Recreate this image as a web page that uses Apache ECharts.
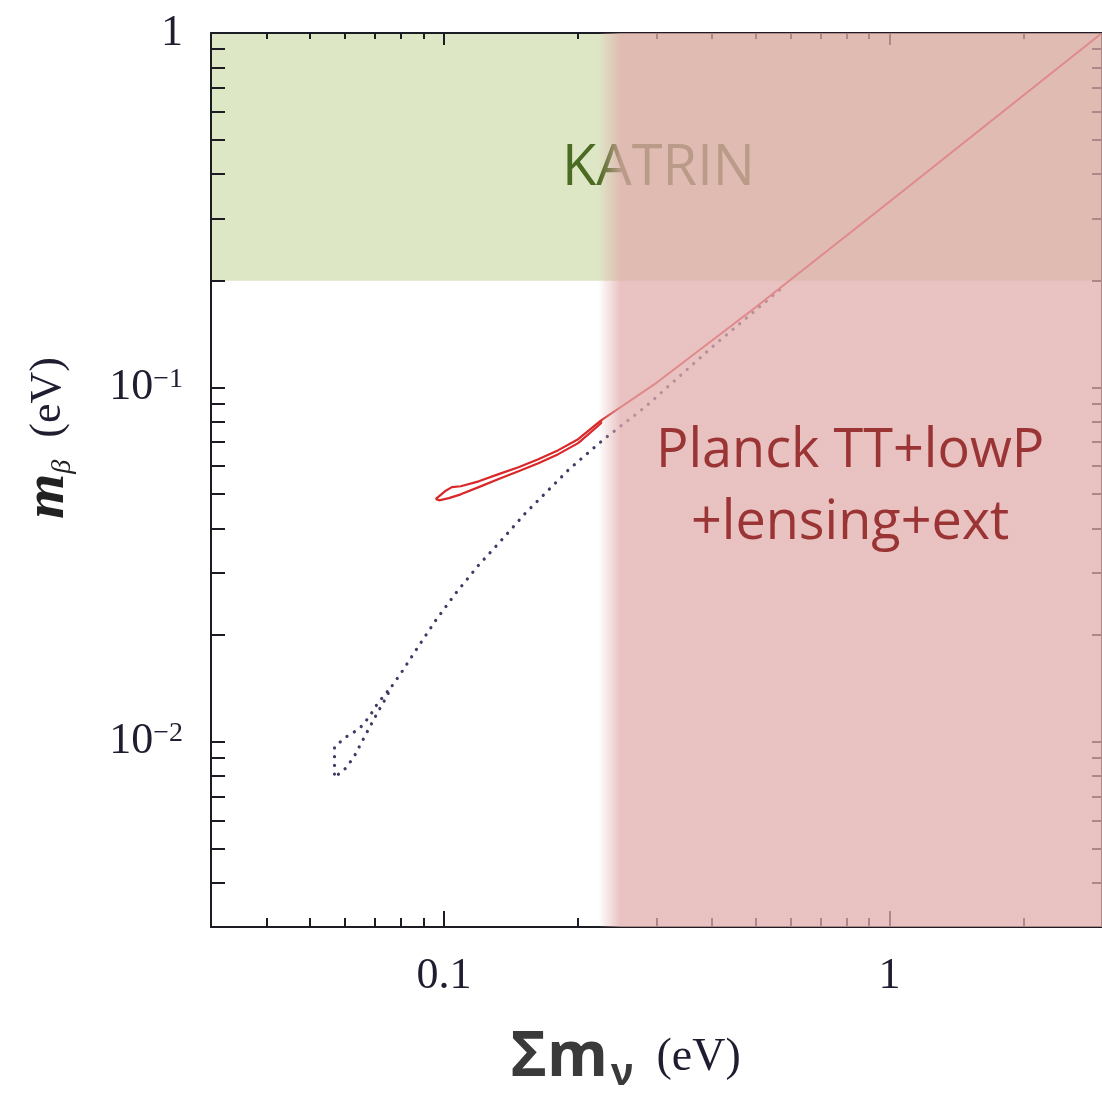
<!DOCTYPE html>
<html>
<head>
<meta charset="utf-8">
<script src="https://cdn.jsdelivr.net/npm/echarts@6/dist/echarts.min.js"></script>
<style>
  html, body { margin: 0; padding: 0; background: #ffffff; }
  #chart { width: 1102px; height: 1104px; }
</style>
</head>
<body>
<div id="chart"></div>
<script>
// Axis ranges (eV)
const sumRange = [0.03, 3];
const mbetaRange = [0.003, 1];

// Tick values (eV)
const sumMajorTicks = [0.1, 1];
const sumMinorTicks = [0.04, 0.05, 0.06, 0.07, 0.08, 0.09, 0.2, 0.3, 0.4, 0.5, 0.6, 0.7, 0.8, 0.9, 2];
const mbetaMajorTicks = [0.01, 0.1, 1];
const mbetaMinorTicks = [0.004, 0.005, 0.006, 0.007, 0.008, 0.009,
  0.02, 0.03, 0.04, 0.05, 0.06, 0.07, 0.08, 0.09,
  0.2, 0.3, 0.4, 0.5, 0.6, 0.7, 0.8, 0.9];

// Excluded regions
const katrinMbetaLimit = 0.2;     // KATRIN reach in m_beta
const planckSumEdge = 0.222;      // start of the Planck exclusion (soft edge)

// Normal ordering band, dotted (sum of masses, m_beta)
const nhSum = [0.0746, 0.0709, 0.0680, 0.0646, 0.0604, 0.0568, 0.0568, 0.0568,
  0.0604, 0.0630, 0.0656, 0.0680, 0.0709, 0.0735, 0.0765, 0.0802, 0.0866, 0.0960,
  0.1064, 0.1197, 0.1347, 0.1524, 0.1689, 0.1901, 0.2140, 0.2299, 0.2824, 0.40, 0.58];
const nhMbeta = [0.01383, 0.01280, 0.01176, 0.01088, 0.01033, 0.00968, 0.00873, 0.00792,
  0.00845, 0.00913, 0.01006, 0.01095, 0.01207, 0.01305, 0.01438, 0.01565, 0.01816, 0.02207,
  0.02629, 0.03152, 0.03707, 0.04417, 0.05028, 0.0584, 0.0665, 0.0718, 0.0878, 0.130, 0.193];

// Inverted ordering contour (closed loop)
const ihSum = [0.0958, 0.1005, 0.1042, 0.1091, 0.1197, 0.1327, 0.1470, 0.1629, 0.1806, 0.2001, 0.2253,
  0.2253, 0.2001, 0.1806, 0.1629, 0.1470, 0.1327, 0.1197, 0.1091, 0.1026, 0.0975, 0.0958];
const ihMbeta = [0.0484, 0.0509, 0.0523, 0.0526, 0.0543, 0.0569, 0.0595, 0.0627, 0.0665, 0.0714, 0.0807,
  0.0792, 0.0696, 0.0648, 0.0611, 0.0580, 0.0551, 0.0523, 0.0499, 0.0487, 0.0480, 0.0484];

// Quasi-degenerate branch
const tailSum = [0.2253, 0.30, 0.50, 1.0, 2.0, 3.0];
const tailMbeta = [0.0807, 0.103, 0.168, 0.334, 0.667, 1.0];

const zip = (a, b) => a.map((v, i) => [v, b[i]]);
const lg = v => Math.log10(v);

const INK = '#1c1c24';
const SERIF = 'Liberation Serif';

function frameAxis(position, ticks, len, opts) {
  const isX = position === 'bottom' || position === 'top';
  const range = isX ? sumRange : mbetaRange;
  return Object.assign({
    type: 'value',
    gridIndex: 0,
    position: position,
    min: lg(range[0]),
    max: lg(range[1]),
    z: 3,
    silent: true,
    axisLine: { show: false, onZero: false, lineStyle: { color: INK, width: 2 } },
    axisTick: { show: true, inside: true, length: len, customValues: ticks.map(lg),
                lineStyle: { color: INK, width: 2 } },
    axisLabel: { show: false },
    splitLine: { show: false },
    splitArea: { show: false }
  }, opts || {});
}

const labelColor = '#1e1e30';

const xAxes = [
  { type: 'log', logBase: 10, min: sumRange[0], max: sumRange[1], show: false, gridIndex: 0 },
  frameAxis('bottom', sumMajorTicks, 16, {
    axisLine: { show: true, onZero: false, lineStyle: { color: INK, width: 2 } },
    axisLabel: {
      show: true, customValues: sumMajorTicks.map(lg), margin: 27,
      fontFamily: SERIF, fontSize: 44, color: labelColor,
      formatter: v => String(+Math.pow(10, v).toPrecision(3))
    },
    name: '{s|Σm}{n|ν}{u|  (eV)}',
    nameLocation: 'middle',
    nameGap: 96,
    nameTextStyle: {
      padding: [0, 62, 0, 0],
      rich: {
        s: { fontFamily: 'Open Sans', fontWeight: 'bold', fontSize: 62, lineHeight: 70, color: '#3a3a3a' },
        n: { fontFamily: 'Open Sans', fontWeight: 'bold', fontSize: 38, lineHeight: 6, verticalAlign: 'bottom',
             padding: [0, 0, 0, 3], color: '#3a3a3a' },
        u: { fontFamily: SERIF, fontSize: 46, lineHeight: 70, color: labelColor }
      }
    }
  }),
  frameAxis('bottom', sumMinorTicks, 9),
  frameAxis('top', sumMajorTicks, 12, {
    axisLine: { show: true, onZero: false, lineStyle: { color: INK, width: 2 } }
  }),
  frameAxis('top', sumMinorTicks, 6)
];

const yAxes = [
  { type: 'log', logBase: 10, min: mbetaRange[0], max: mbetaRange[1], show: false, gridIndex: 0 },
  frameAxis('left', mbetaMajorTicks.concat(mbetaMinorTicks), 14, {
    axisLine: { show: true, onZero: false, lineStyle: { color: INK, width: 2 } },
    axisLabel: {
      show: true, customValues: mbetaMajorTicks.map(lg), margin: 28,
      formatter: v => {
        const e = Math.round(v);
        return e === 0 ? '{d|1}' : '{d|10}{s|−' + (-e) + '}';
      },
      rich: {
        d: { fontFamily: SERIF, fontSize: 44, lineHeight: 44, color: labelColor },
        s: { fontFamily: SERIF, fontSize: 28, lineHeight: 28, verticalAlign: 'top', color: labelColor }
      }
    },
    name: '{m|m}{b|β}{u|  (eV)}',
    nameLocation: 'middle',
    nameRotate: 90,
    nameGap: 134,
    nameTextStyle: {
      padding: [0, 0, 0, 84],
      rich: {
        m: { fontFamily: SERIF, fontStyle: 'italic', fontWeight: 'bold', fontSize: 58, lineHeight: 58, color: '#222' },
        b: { fontFamily: SERIF, fontStyle: 'italic', fontSize: 28, lineHeight: 28, verticalAlign: 'bottom', color: '#222' },
        u: { fontFamily: SERIF, fontSize: 44, lineHeight: 58, color: labelColor }
      }
    }
  }),
  frameAxis('right', mbetaMajorTicks.concat(mbetaMinorTicks), 10, {
    axisLine: { show: true, onZero: false, lineStyle: { color: INK, width: 2 } }
  })
];

const planckFill = new echarts.graphic.LinearGradient(0, 0, 1, 0, [
  { offset: 0, color: 'rgba(225,172,172,0)' },
  { offset: 0.045, color: 'rgba(225,172,172,0.74)' },
  { offset: 1, color: 'rgba(225,172,172,0.74)' }
]);

const option = {
  animation: false,
  backgroundColor: '#ffffff',
  grid: { left: 211, top: 33, width: 896, height: 894, containLabel: false },
  xAxis: xAxes,
  yAxis: yAxes,
  series: [
    {
      name: 'KATRIN',
      type: 'line',
      xAxisIndex: 0, yAxisIndex: 0,
      data: [],
      z: 1,
      silent: true,
      markArea: {
        z: 1,
        silent: true,
        itemStyle: { color: '#dde6c5' },
        label: {
          show: true, position: 'inside', offset: [2, 12],
          formatter: 'KATRIN',
          fontFamily: 'Open Sans', fontSize: 56, color: '#4b6a22'
        },
        data: [[{ xAxis: sumRange[0], yAxis: katrinMbetaLimit }, { xAxis: sumRange[1], yAxis: mbetaRange[1] }]]
      }
    },
    {
      name: 'Normal ordering',
      type: 'line',
      xAxisIndex: 0, yAxisIndex: 0,
      data: zip(nhSum, nhMbeta),
      showSymbol: false,
      z: 2,
      lineStyle: { color: '#3c3c66', width: 3.2, type: [0.1, 8.6], cap: 'round' }
    },
    {
      name: 'Inverted ordering',
      type: 'line',
      xAxisIndex: 0, yAxisIndex: 0,
      data: zip(ihSum, ihMbeta),
      showSymbol: false,
      z: 2,
      lineStyle: { color: '#d9282a', width: 2.2 }
    },
    {
      name: 'Degenerate',
      type: 'line',
      xAxisIndex: 0, yAxisIndex: 0,
      data: zip(tailSum, tailMbeta),
      showSymbol: false,
      z: 2,
      lineStyle: { color: '#d9282a', width: 2 }
    },
    {
      name: 'Planck',
      type: 'line',
      xAxisIndex: 0, yAxisIndex: 0,
      data: [],
      z: 4,
      silent: true,
      markArea: {
        z: 4,
        silent: true,
        itemStyle: { color: planckFill },
        label: {
          show: true, position: 'inside', offset: [0, 8],
          formatter: 'Planck TT+lowP\n+lensing+ext',
          fontFamily: 'Open Sans', fontSize: 54, lineHeight: 72, color: '#9b3434', align: 'center'
        },
        data: [[{ xAxis: planckSumEdge, yAxis: mbetaRange[0] }, { xAxis: sumRange[1], yAxis: mbetaRange[1] }]]
      }
    }
  ]
};

const chart = echarts.init(document.getElementById('chart'), null, { renderer: 'canvas' });
chart.setOption(option);
</script>
</body>
</html>
